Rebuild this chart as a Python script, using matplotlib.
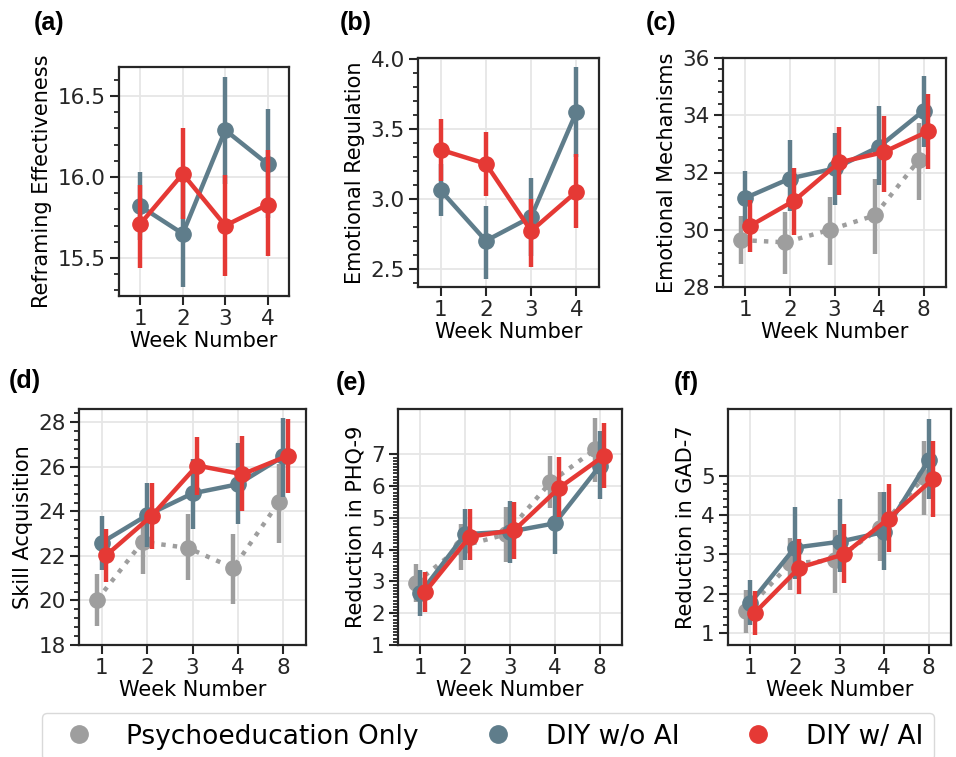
import numpy as np
import matplotlib
matplotlib.use("Agg")
import matplotlib.pyplot as plt
from matplotlib.lines import Line2D
from matplotlib.ticker import MultipleLocator, FixedLocator

# -------------------------
# data (means and 95% CI bounds)
# -------------------------
WEEKS_4 = ["1", "2", "3", "4"]
WEEKS_5 = ["1", "2", "3", "4", "8"]

GROUPS = ["Psychoeducation Only", "DIY w/o AI", "DIY w/ AI"]
COLORS = ["#9E9E9E", "#5F7D8B", "#E53935"]

# (a) Reframing Effectiveness
a_noai = [15.82, 15.65, 16.29, 16.08]
a_noai_lo = [15.61, 15.32, 15.96, 15.75]
a_noai_hi = [16.03, 15.98, 16.62, 16.42]
a_ai = [15.71, 16.02, 15.70, 15.83]
a_ai_lo = [15.44, 15.74, 15.39, 15.51]
a_ai_hi = [15.95, 16.30, 16.01, 16.17]

# (b) Emotional Regulation
b_noai = [3.06, 2.70, 2.87, 3.62]
b_noai_lo = [2.88, 2.43, 2.59, 3.30]
b_noai_hi = [3.25, 2.95, 3.15, 3.94]
b_ai = [3.35, 3.25, 2.77, 3.05]
b_ai_lo = [3.13, 3.02, 2.51, 2.79]
b_ai_hi = [3.57, 3.48, 3.00, 3.32]

# (c) Emotional Mechanisms
c_psy = [29.64, 29.56, 30.00, 30.50, 32.45]
c_psy_lo = [28.81, 28.46, 28.77, 29.14, 31.04]
c_psy_hi = [30.47, 30.62, 31.14, 31.79, 33.73]
c_noai = [31.11, 31.79, 32.14, 32.90, 34.16]
c_noai_lo = [30.16, 30.64, 30.85, 31.57, 32.90]
c_noai_hi = [32.06, 33.12, 33.38, 34.34, 35.38]
c_ai = [30.13, 31.02, 32.35, 32.71, 33.44]
c_ai_lo = [29.23, 29.83, 31.22, 31.31, 32.12]
c_ai_hi = [31.05, 32.17, 33.58, 33.96, 34.73]

# (d) Skill Acquisition
d_psy = [20.03, 22.63, 22.36, 21.46, 24.41]
d_psy_lo = [18.84, 21.20, 20.93, 19.85, 22.59]
d_psy_hi = [21.20, 23.98, 23.88, 23.00, 26.12]
d_noai = [22.60, 23.83, 24.81, 25.22, 26.47]
d_noai_lo = [21.38, 22.41, 23.23, 23.43, 24.66]
d_noai_hi = [23.80, 25.26, 26.36, 27.07, 28.20]
d_ai = [22.03, 23.80, 26.06, 25.67, 26.50]
d_ai_lo = [20.83, 22.29, 24.74, 24.03, 24.84]
d_ai_hi = [23.19, 25.26, 27.32, 27.37, 28.15]

# (e) Reduction in PHQ-9
e_psy = [2.96, 4.10, 4.48, 6.12, 7.16]
e_psy_lo = [2.36, 3.36, 3.62, 5.30, 6.12]
e_psy_hi = [3.54, 4.81, 5.35, 6.95, 8.16]
e_noai = [2.63, 4.49, 4.57, 4.83, 6.63]
e_noai_lo = [1.91, 3.68, 3.59, 3.85, 5.59]
e_noai_hi = [3.36, 5.27, 5.54, 5.88, 7.75]
e_ai = [2.66, 4.41, 4.62, 5.95, 6.96]
e_ai_lo = [2.05, 3.68, 3.71, 5.02, 5.93]
e_ai_hi = [3.29, 5.27, 5.51, 6.91, 7.98]

# (f) Reduction in GAD-7
f_psy = [1.56, 2.77, 2.85, 3.66, 4.97]
f_psy_lo = [1.00, 2.09, 2.02, 2.83, 4.00]
f_psy_hi = [2.09, 3.42, 3.62, 4.59, 5.88]
f_noai = [1.76, 3.17, 3.32, 3.57, 5.40]
f_noai_lo = [1.20, 2.37, 2.54, 2.60, 4.42]
f_noai_hi = [2.34, 4.21, 4.41, 4.59, 6.44]
f_ai = [1.51, 2.66, 3.00, 3.91, 4.92]
f_ai_lo = [0.94, 1.98, 2.26, 3.05, 3.94]
f_ai_hi = [2.06, 3.39, 3.76, 4.80, 5.88]

W, H = 956, 757


def box(l, t, r, b):
    return [l / W, 1 - b / H, (r - l) / W, (b - t) / H]


def draw_group(ax, weeks, mean, lo, hi, color, offset, ls, z):
    x = np.arange(len(weeks)) + offset
    ax.vlines(x, lo, hi, color=color, lw=3.2, zorder=z)
    ax.plot(x, mean, color=color, ls=ls, lw=3.2, marker="o", ms=11,
            zorder=z + 0.5)


def style_axes(ax, weeks, ylabel, ylim, major, minor):
    ax.set_xticks(range(len(weeks)))
    ax.set_xticklabels(weeks)
    ax.set_xlim(-0.5, len(weeks) - 0.5)
    ax.set_ylim(*ylim)
    ax.yaxis.set_major_locator(major)
    ax.yaxis.set_minor_locator(minor)
    ax.set_xlabel("Week Number", fontsize=15, labelpad=1)
    ax.set_ylabel(ylabel, fontsize=15, labelpad=4)
    ax.grid(True, which="major", color="#e6e6e6", lw=1.3, zorder=0)
    ax.set_axisbelow(True)
    ax.tick_params(axis="both", which="major", labelsize=15.5, length=6.5,
                   width=1.5, color="#262626", labelcolor="#262626", pad=3)
    ax.tick_params(axis="y", which="minor", length=3.8, width=1.3,
                   color="#262626")
    for s in ax.spines.values():
        s.set_linewidth(1.6)
        s.set_color("#262626")


def main():
    plt.rcParams["font.family"] = ["DejaVu Sans"]
    fig = plt.figure(figsize=(W / 100, H / 100), dpi=100)

    # -------------------------
    # (a)
    # -------------------------
    ax = fig.add_axes(box(119, 67, 289, 296))
    draw_group(ax, WEEKS_4, a_noai, a_noai_lo, a_noai_hi, COLORS[1], 0, "-", 3)
    draw_group(ax, WEEKS_4, a_ai, a_ai_lo, a_ai_hi, COLORS[2], 0, "-", 5)
    style_axes(ax, WEEKS_4, "Reframing Effectiveness", (15.265, 16.68),
               MultipleLocator(0.5), MultipleLocator(0.1))

    # -------------------------
    # (b)
    # -------------------------
    ax = fig.add_axes(box(418, 58, 599, 287))
    draw_group(ax, WEEKS_4, b_noai, b_noai_lo, b_noai_hi, COLORS[1], 0, "-", 3)
    draw_group(ax, WEEKS_4, b_ai, b_ai_lo, b_ai_hi, COLORS[2], 0, "-", 5)
    style_axes(ax, WEEKS_4, "Emotional Regulation", (2.37, 4.005),
               MultipleLocator(0.5), MultipleLocator(0.1))

    # -------------------------
    # (c)-(f): three groups, dodged
    # -------------------------
    panels = [
        (box(723, 58, 946, 287), "Emotional Mechanisms", (28, 36),
         MultipleLocator(2), MultipleLocator(0.4),
         [(c_psy, c_psy_lo, c_psy_hi), (c_noai, c_noai_lo, c_noai_hi),
          (c_ai, c_ai_lo, c_ai_hi)]),
        (box(79, 409, 306, 645), "Skill Acquisition", (18, 28.6),
         MultipleLocator(2), MultipleLocator(0.4),
         [(d_psy, d_psy_lo, d_psy_hi), (d_noai, d_noai_lo, d_noai_hi),
          (d_ai, d_ai_lo, d_ai_hi)]),
        (box(398, 409, 622, 645), "Reduction in PHQ-9", (1.0, 8.43),
         FixedLocator(range(1, 8)), FixedLocator(np.arange(1, 7.01, 0.1)),
         [(e_psy, e_psy_lo, e_psy_hi), (e_noai, e_noai_lo, e_noai_hi),
          (e_ai, e_ai_lo, e_ai_hi)]),
        (box(728, 409, 951, 645), "Reduction in GAD-7", (0.69, 6.7),
         FixedLocator(range(1, 6)), FixedLocator(np.arange(1, 5.01, 0.2)),
         [(f_psy, f_psy_lo, f_psy_hi), (f_noai, f_noai_lo, f_noai_hi),
          (f_ai, f_ai_lo, f_ai_hi)]),
    ]
    offsets = [-0.1, 0.0, 0.1]
    styles = [(0, (1, 1.6)), "-", "-"]
    for rect, ylabel, ylim, major, minor, series in panels:
        ax = fig.add_axes(rect)
        for i, (m, lo, hi) in enumerate(series):
            draw_group(ax, WEEKS_5, m, lo, hi, COLORS[i], offsets[i],
                       styles[i], 2 + 2 * i)
        style_axes(ax, WEEKS_5, ylabel, ylim, major, minor)

    # panel letters
    for txt, x, y in [("(a)", 34, 11), ("(b)", 340, 11), ("(c)", 646, 11),
                      ("(d)", 9, 369), ("(e)", 336, 371), ("(f)", 674, 371)]:
        fig.text(x / W, 1 - y / H, txt, fontsize=18, fontweight="bold",
                 family="Liberation Sans", va="top", ha="left")

    # -------------------------
    # legend
    # -------------------------
    handles = [Line2D([], [], ls="none", marker="o", ms=12.5, color=c)
               for c in COLORS]
    fig.legend(handles, GROUPS, loc="upper left",
               bbox_to_anchor=(42 / W, 1 - 713 / H), ncol=3, fontsize=19,
               frameon=True, columnspacing=2.0, handletextpad=0.8,
               borderaxespad=0, edgecolor="#d0d0d0", fancybox=True)

    fig.savefig("out.png", dpi=100)
    plt.close(fig)


if __name__ == "__main__":
    main()
